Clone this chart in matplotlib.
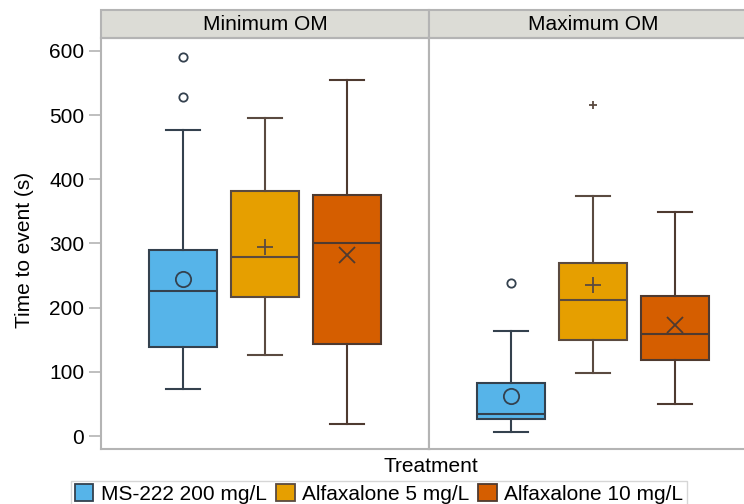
import matplotlib.pyplot as plt
from matplotlib.patches import Rectangle, Patch

plt.rcParams['font.family'] = ['Liberation Sans', 'DejaVu Sans']

# values (seconds)
panels = ['Minimum OM', 'Maximum OM']
treatments = ['MS-222 200 mg/L', 'Alfaxalone 5 mg/L', 'Alfaxalone 10 mg/L']
colors = ['#56B4E9', '#E69F00', '#D55E00']
edge_colors = ['#34414e', '#5a4a40', '#4e3a30']
mean_markers = ['o', '+', 'x']
flier_markers = ['o', '+', 'x']

q1 = [[139, 216, 143], [26, 150, 118]]
median = [[226, 279, 301], [35, 212, 159]]
q3 = [[290, 382, 375], [82, 269, 219]]
whis_lo = [[74, 127, 19], [7, 98, 50]]
whis_hi = [[477, 495, 554], [163, 374, 349]]
means = [[245, 295, 282], [63, 235, 173]]
outliers = [[[528, 590], [], []], [[238], [515], []]]

fig = plt.figure(figsize=(7.44, 5.04), dpi=100)

ax_w = 328 / 744
ax_b = 1 - 449.3 / 504
ax_h = (449.3 - 38) / 504
lefts = [101 / 744, 429 / 744]
frame_col = '#b4b4b4'
fs = 15

axes = []
for p, name in enumerate(panels):
    ax = fig.add_axes([lefts[p], ax_b, ax_w, ax_h])
    axes.append(ax)
    for i in range(3):
        stats = [dict(med=median[p][i], q1=q1[p][i], q3=q3[p][i],
                      whislo=whis_lo[p][i], whishi=whis_hi[p][i],
                      mean=means[p][i], fliers=outliers[p][i])]
        ec = edge_colors[i]
        mm = mean_markers[i]
        ax.bxp(stats, positions=[i + 1], widths=0.84, capwidths=0.42,
               patch_artist=True, showmeans=True,
               boxprops=dict(facecolor=colors[i], edgecolor=ec, linewidth=1.5),
               medianprops=dict(color=ec, linewidth=1.5),
               whiskerprops=dict(color=ec, linewidth=1.5),
               capprops=dict(color=ec, linewidth=1.5),
               meanprops=dict(marker=mm, markersize=11 if mm == 'o' else 12,
                              markerfacecolor='none', markeredgecolor=ec,
                              markeredgewidth=1.3),
               flierprops=dict(marker=flier_markers[i], markersize=6,
                               markerfacecolor='none', markeredgecolor=ec,
                               markeredgewidth=1.3))
    ax.set_xlim(0, 4)
    ax.set_ylim(-20.5, 620)
    ax.set_xticks([])
    for s in ax.spines.values():
        s.set_color(frame_col)
        s.set_linewidth(1.5)
    # facet strip
    strip_h = 28 / (449.3 - 38)
    ax.add_patch(Rectangle((0, 1), 1, strip_h, transform=ax.transAxes,
                           facecolor='#dcdcd6', edgecolor=frame_col,
                           linewidth=1.5, clip_on=False))
    ax.text(0.5, 1 + strip_h / 2, name, transform=ax.transAxes,
            ha='center', va='center', fontsize=fs)
    if p == 0:
        ax.set_yticks([0, 100, 200, 300, 400, 500, 600])
        ax.tick_params(axis='y', labelsize=fs, length=9, width=1.2,
                       color=frame_col, pad=3)
    else:
        ax.set_yticks([])

fig.text(25 / 744, 1 - 250 / 504, 'Time to event (s)', rotation=90,
         ha='center', va='center', fontsize=fs)
fig.text(431 / 744, 1 - 466 / 504, 'Treatment', ha='center', va='center',
         fontsize=fs)

handles = [Patch(facecolor=colors[i], edgecolor=edge_colors[i], linewidth=1.3,
                 label=treatments[i]) for i in range(3)]
leg = fig.legend(handles=handles, loc='upper center', ncol=3,
                 bbox_to_anchor=(379 / 744, 1 - 481 / 504), borderaxespad=0,
                 fontsize=fs, handlelength=0.9, handleheight=0.9,
                 handletextpad=0.35, columnspacing=0.45, borderpad=0.15,
                 fancybox=False, frameon=True)
leg.get_frame().set_edgecolor('#cccccc')
leg.get_frame().set_linewidth(1.0)

fig.savefig('out.png', dpi=100)
